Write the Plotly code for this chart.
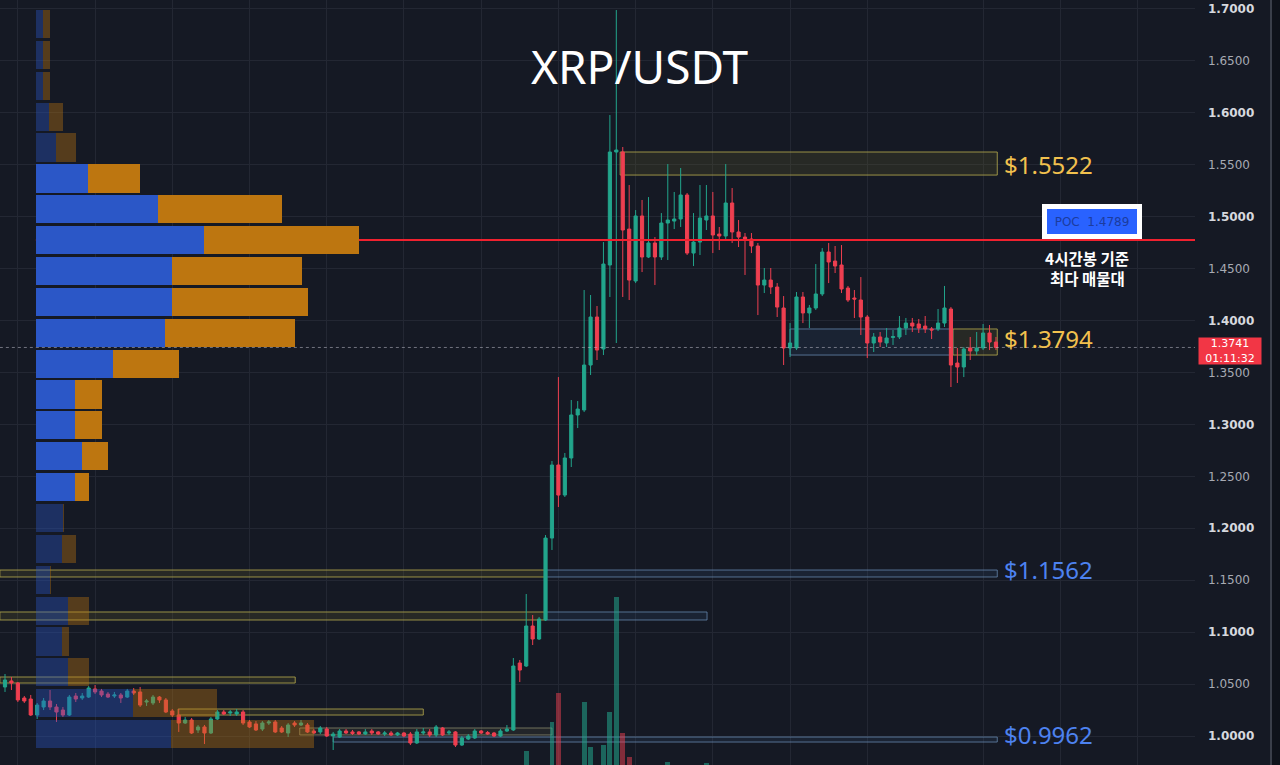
import plotly.graph_objects as go

# ---------------- data ----------------
opens = [
1.0472, 1.0530, 1.0510, 1.0366, 1.0356, 1.0202, 1.0279, 1.0337, 1.0279, 1.0250,
1.0202, 1.0385, 1.0366, 1.0375, 1.0453, 1.0433, 1.0404, 1.0385, 1.0395, 1.0375,
1.0433, 1.0424, 1.0327, 1.0318, 1.0375, 1.0347, 1.0241, 1.0202, 1.0125, 1.0154,
1.0058, 1.0087, 1.0029, 1.0164, 1.0231, 1.0221, 1.0212, 1.0231, 1.0135, 1.0116,
1.0067, 1.0125, 1.0135, 1.0077, 1.0029, 1.0125, 1.0106, 1.0106, 1.0048, 1.0039,
1.0067, 1.0000, 0.9990, 1.0048, 1.0039, 1.0039, 1.0019, 1.0048, 1.0039, 1.0019,
1.0029, 1.0010, 1.0029, 1.0019, 0.9933, 1.0029, 1.0039, 1.0010, 1.0077, 1.0029,
1.0039, 0.9913, 0.9971, 0.9981, 1.0048, 1.0034, 1.0029, 1.0000, 1.0048, 1.0058,
1.0703, 1.0674, 1.1059, 1.0934, 1.1117, 1.1906, 1.2609, 1.2320, 1.2677, 1.3091,
1.3139, 1.3572, 1.4034, 1.3726, 1.4535, 1.5623, 1.5623, 1.4881, 1.4381, 1.5007,
1.4612, 1.4747, 1.4612, 1.4939, 1.4958, 1.4978, 1.5209, 1.4650, 1.4756, 1.4968,
1.5007, 1.4833, 1.4814, 1.5132, 1.4853, 1.4804, 1.4785, 1.4718, 1.4342, 1.4390,
1.4323, 1.4121, 1.3736, 1.3736, 1.4227, 1.4073, 1.4121, 1.4256, 1.4660, 1.4573,
1.4535, 1.4313, 1.4217, 1.4198, 1.4034, 1.3784, 1.3842, 1.3784, 1.3837, 1.3842,
1.3928, 1.3976, 1.3967, 1.3947, 1.3919, 1.3919, 1.3976, 1.4111, 1.3591, 1.3553,
1.3736, 1.3707, 1.3736, 1.3880, 1.3793]

highs = [
1.0597, 1.0568, 1.0520, 1.0385, 1.0395, 1.0318, 1.0366, 1.0443, 1.0308, 1.0279,
1.0395, 1.0414, 1.0414, 1.0481, 1.0491, 1.0453, 1.0424, 1.0424, 1.0414, 1.0453,
1.0462, 1.0472, 1.0356, 1.0395, 1.0385, 1.0366, 1.0260, 1.0260, 1.0183, 1.0173,
1.0106, 1.0106, 1.0183, 1.0250, 1.0250, 1.0250, 1.0260, 1.0250, 1.0154, 1.0144,
1.0144, 1.0154, 1.0154, 1.0096, 1.0125, 1.0144, 1.0154, 1.0125, 1.0067, 1.0096,
1.0087, 1.0039, 1.0067, 1.0067, 1.0058, 1.0048, 1.0067, 1.0067, 1.0048, 1.0048,
1.0048, 1.0039, 1.0039, 1.0039, 1.0067, 1.0077, 1.0067, 1.0106, 1.0087, 1.0058,
1.0048, 1.0000, 1.0019, 1.0067, 1.0058, 1.0048, 1.0039, 1.0067, 1.0106, 1.0751,
1.0732, 1.1367, 1.1165, 1.1146, 1.1935, 1.2648, 1.3456, 1.2725, 1.3235, 1.3225,
1.4294, 1.4246, 1.4140, 1.4756, 1.5979, 1.6990, 1.5671, 1.5305, 1.5064, 1.5161,
1.5189, 1.4804, 1.5035, 1.5507, 1.5238, 1.5469, 1.5228, 1.5035, 1.5305, 1.5305,
1.5238, 1.4901, 1.5507, 1.5276, 1.4968, 1.4843, 1.4843, 1.4747, 1.4506, 1.4506,
1.4361, 1.4236, 1.3976, 1.4275, 1.4275, 1.4150, 1.4544, 1.4698, 1.4747, 1.4718,
1.4727, 1.4333, 1.4294, 1.4419, 1.4053, 1.3880, 1.3890, 1.3928, 1.3909, 1.4044,
1.4025, 1.4025, 1.4015, 1.4044, 1.3938, 1.4111, 1.4333, 1.4130, 1.3736, 1.3745,
1.3842, 1.3890, 1.3967, 1.3957, 1.3842]

lows = [
1.0424, 1.0443, 1.0327, 1.0318, 1.0193, 1.0164, 1.0250, 1.0250, 1.0135, 1.0183,
1.0193, 1.0327, 1.0347, 1.0366, 1.0404, 1.0375, 1.0366, 1.0366, 1.0318, 1.0366,
1.0395, 1.0279, 1.0289, 1.0298, 1.0318, 1.0221, 1.0183, 1.0039, 1.0116, 1.0019,
1.0029, 0.9923, 1.0019, 1.0154, 1.0202, 1.0193, 1.0193, 1.0106, 1.0077, 1.0048,
1.0048, 1.0106, 1.0029, 1.0029, 0.9990, 1.0087, 1.0096, 1.0029, 1.0019, 1.0019,
0.9990, 0.9865, 0.9981, 1.0019, 1.0010, 1.0010, 1.0010, 1.0010, 1.0010, 1.0000,
1.0000, 1.0000, 0.9990, 0.9913, 0.9923, 1.0010, 0.9990, 0.9990, 1.0000, 1.0010,
0.9894, 0.9904, 0.9961, 0.9971, 1.0019, 1.0010, 0.9990, 0.9990, 1.0039, 1.0048,
1.0520, 1.0664, 1.0876, 1.0924, 1.1107, 1.1791, 1.2205, 1.2301, 1.2590, 1.2965,
1.3119, 1.3476, 1.3620, 1.3668, 1.4227, 1.3784, 1.4227, 1.4198, 1.4361, 1.4467,
1.4602, 1.4342, 1.4583, 1.4583, 1.4881, 1.4901, 1.4631, 1.4525, 1.4631, 1.4872,
1.4650, 1.4679, 1.4776, 1.4747, 1.4708, 1.4439, 1.4650, 1.4053, 1.4265, 1.4256,
1.4034, 1.3572, 1.3649, 1.3716, 1.3976, 1.3928, 1.4102, 1.4236, 1.4361, 1.4458,
1.4265, 1.4179, 1.4025, 1.3861, 1.3639, 1.3697, 1.3745, 1.3745, 1.3765, 1.3822,
1.3861, 1.3890, 1.3880, 1.3880, 1.3822, 1.3899, 1.3938, 1.3360, 1.3399, 1.3456,
1.3620, 1.3668, 1.3716, 1.3716, 1.3716]

closes = [
1.0539, 1.0510, 1.0347, 1.0337, 1.0202, 1.0298, 1.0337, 1.0279, 1.0231, 1.0202,
1.0375, 1.0356, 1.0385, 1.0462, 1.0424, 1.0395, 1.0375, 1.0395, 1.0366, 1.0433,
1.0414, 1.0298, 1.0337, 1.0375, 1.0347, 1.0231, 1.0202, 1.0125, 1.0154, 1.0029,
1.0087, 1.0029, 1.0164, 1.0231, 1.0212, 1.0231, 1.0231, 1.0125, 1.0087, 1.0058,
1.0125, 1.0135, 1.0039, 1.0039, 1.0106, 1.0106, 1.0125, 1.0039, 1.0029, 1.0077,
1.0000, 1.0019, 1.0048, 1.0029, 1.0024, 1.0019, 1.0039, 1.0029, 1.0019, 1.0029,
1.0010, 1.0029, 1.0000, 0.9933, 1.0039, 1.0039, 1.0010, 1.0087, 1.0010, 1.0039,
0.9913, 0.9981, 1.0000, 1.0048, 1.0029, 1.0019, 1.0000, 1.0048, 1.0067, 1.0674,
1.0635, 1.1059, 1.0934, 1.1126, 1.1906, 1.2609, 1.2320, 1.2677, 1.3091, 1.3148,
1.3572, 1.4034, 1.3716, 1.4544, 1.5623, 1.5642, 1.4872, 1.4390, 1.5007, 1.4612,
1.4747, 1.4612, 1.4939, 1.4968, 1.4978, 1.5209, 1.4650, 1.4756, 1.4987, 1.5007,
1.4824, 1.4814, 1.5132, 1.4853, 1.4804, 1.4776, 1.4718, 1.4342, 1.4390, 1.4323,
1.4130, 1.3736, 1.3784, 1.4227, 1.4073, 1.4121, 1.4256, 1.4660, 1.4564, 1.4525,
1.4304, 1.4198, 1.4207, 1.4034, 1.3784, 1.3842, 1.3793, 1.3832, 1.3846, 1.3928,
1.3976, 1.3947, 1.3928, 1.3919, 1.3909, 1.3976, 1.4121, 1.3572, 1.3553, 1.3726,
1.3707, 1.3736, 1.3880, 1.3793, 1.3741]

volumes = [
3, 3, 3, 2, 4, 3, 2, 3, 3, 2,
3, 2, 2, 3, 2, 2, 2, 2, 2, 3,
2, 3, 2, 2, 2, 3, 2, 4, 2, 4,
2, 4, 3, 2, 2, 2, 2, 3, 2, 2,
2, 2, 3, 2, 3, 2, 2, 3, 2, 2,
3, 4, 3, 2, 2, 2, 2, 2, 2, 2,
2, 2, 2, 4, 4, 2, 2, 3, 2, 2,
4, 3, 2, 3, 2, 2, 2, 3, 3, 9,
6, 24, 8, 7, 9, 53, 82, 7, 9, 8,
73, 28, 8, 30, 63, 178, 42, 18, 8, 7,
7, 6, 6, 13, 6, 8, 8, 7, 8, 12,
7, 5, 8, 7, 5, 5, 5, 8, 5, 5,
6, 8, 5, 8, 6, 5, 7, 8, 6, 5,
7, 5, 5, 7, 8, 4, 3, 3, 3, 5,
4, 3, 3, 3, 3, 4, 7, 9, 6, 6,
4, 4, 5, 4, 3]

# volume profile (rows of price)
profile_price = [1.6855, 1.6558, 1.6261, 1.5963, 1.5666, 1.5369, 1.5072, 1.4774,
                 1.4477, 1.4180, 1.3883, 1.3585, 1.3288, 1.2991, 1.2694, 1.2396,
                 1.2099, 1.1802, 1.1505, 1.1207, 1.0910, 1.0613, 1.0316, 1.0019]
profile_buy = [7, 7, 7, 13, 20, 52, 122, 168, 136, 136, 129, 77, 39, 39, 46, 39,
               27, 26, 14, 32, 26, 32, 97, 135]
profile_sell = [7, 7, 7, 14, 20, 52, 124, 155, 130, 136, 130, 66, 27, 27, 26, 14,
                1, 14, 1, 21, 7, 21, 84, 143]
value_area = [False] * 5 + [True] * 11 + [False] * 8

poc_price = 1.4775
poc_label = 1.4789
last_price = 1.3741
countdown = "01:11:32"

# zones
zone_top = [1.5623, 1.3919, 1.3919, 1.1598, 1.1598, 1.1194, 1.1194, 1.0568, 1.0260, 1.0077, 0.9990]
zone_bottom = [1.5401, 1.3668, 1.3668, 1.1531, 1.1531, 1.1117, 1.1117, 1.0510, 1.0202, 1.0010, 0.9942]
zone_from = [95.6, 122.0, 147.3, -0.8, 83.9, -0.8, 83.9, -0.8, 26.9, 45.8, 51.0]
zone_to = [154.2, 147.3, 154.2, 83.9, 154.2, 83.9, 109.1, 45.1, 65.0, 85.0, 154.2]
zone_kind = ['y', 'b', 'y', 'y', 'b', 'y', 'b', 'y', 'y', 'g', 'b']

level_prices = [1.5522, 1.3794, 1.1562, 0.9962]
level_colors = ['#f2c14e', '#f2c14e', '#4d82f0', '#4d82f0']
level_shift = [-2, 3, 4, 5]

grid_candles = [2, 14, 26, 38, 50, 62, 74, 86, 98, 110, 122, 134, 152, 164, 176]
y_ticks = [1.00, 1.05, 1.10, 1.15, 1.20, 1.25, 1.30, 1.35, 1.40, 1.45, 1.50,
           1.55, 1.60, 1.65, 1.70]

# ---------------- styling ----------------
BG = '#151924'
GRID = '#232733'
GREEN = '#22a58c'
RED = '#ee3f50'
W, H = 1280, 765
PR = 1195 / W  # right edge of plotting area (paper fraction)

idx = list(range(len(closes)))

fig = go.Figure()

fig.add_trace(go.Candlestick(
    x=idx, open=opens, high=highs, low=lows, close=closes,
    increasing=dict(line=dict(color=GREEN, width=1), fillcolor=GREEN),
    decreasing=dict(line=dict(color=RED, width=1), fillcolor=RED),
    whiskerwidth=0, showlegend=False, hoverinfo='skip',
    xaxis='x', yaxis='y'))

# current price dotted line
fig.add_trace(go.Scatter(x=[-0.8, 185], y=[last_price, last_price], mode='lines',
                         line=dict(color='rgba(190,190,200,0.55)', width=1, dash='dot'),
                         showlegend=False, hoverinfo='skip', xaxis='x', yaxis='y'))
# POC line
fig.add_trace(go.Scatter(x=[4.8, 185], y=[poc_price, poc_price], mode='lines',
                         line=dict(color='#f0212f', width=2),
                         showlegend=False, hoverinfo='skip', xaxis='x', yaxis='y'))

# volume bars
vol_colors = ['rgba(34,165,140,0.55)' if c >= o else 'rgba(238,63,80,0.5)'
              for o, c in zip(opens, closes)]
fig.add_trace(go.Bar(x=idx, y=volumes, marker=dict(color=vol_colors, line=dict(width=0)),
                     width=0.75, showlegend=False, hoverinfo='skip',
                     xaxis='x', yaxis='y2'))

# volume profile
buy_cols = ['#2b57c7' if v else 'rgba(43,87,199,0.38)' for v in value_area]
sell_cols = ['#bd7610' if v else 'rgba(189,118,16,0.38)' for v in value_area]
fig.add_trace(go.Bar(y=profile_price, x=profile_buy, orientation='h', width=0.0272,
                     marker=dict(color=buy_cols, line=dict(width=0)),
                     showlegend=False, hoverinfo='skip', xaxis='x2', yaxis='y'))
fig.add_trace(go.Bar(y=profile_price, x=profile_sell, orientation='h', width=0.0272,
                     marker=dict(color=sell_cols, line=dict(width=0)),
                     showlegend=False, hoverinfo='skip', xaxis='x2', yaxis='y'))

# zones
zone_style = {
    'y': dict(line='rgba(175,165,75,0.85)', fill='rgba(120,115,45,0.18)'),
    'b': dict(line='rgba(105,140,180,0.75)', fill='rgba(60,100,150,0.14)'),
    'g': dict(line='rgba(150,150,115,0.7)', fill='rgba(110,110,80,0.14)'),
}
shapes = []
for t, b, x0, x1, k in zip(zone_top, zone_bottom, zone_from, zone_to, zone_kind):
    st = zone_style[k]
    shapes.append(dict(type='rect', xref='x', yref='y', x0=x0, x1=x1, y0=b, y1=t,
                       line=dict(color=st['line'], width=1), fillcolor=st['fill'],
                       layer='between'))
# right border strip
shapes.append(dict(type='rect', xref='paper', yref='paper', x0=1271 / W, x1=1.0, y0=0, y1=1,
                   line=dict(width=0), fillcolor='#0f121a', layer='above'))
shapes.append(dict(type='line', xref='paper', yref='paper', x0=1271 / W, x1=1271 / W, y0=0, y1=1,
                   line=dict(color='#3a3e49', width=2), layer='above'))

annotations = []
annotations.append(dict(xref='paper', yref='paper', x=0.5, y=1 - 66 / H, text='XRP/USDT',
                        showarrow=False, xanchor='center', yanchor='middle',
                        font=dict(family='Noto Sans', size=46, color='#ffffff')))
for p, c, sh in zip(level_prices, level_colors, level_shift):
    annotations.append(dict(xref='x', yref='y', x=155.0, y=p, text='$%.4f' % p,
                            showarrow=False, xanchor='left', yanchor='middle', yshift=sh,
                            font=dict(family='Noto Sans', size=24, color=c)))
annotations.append(dict(xref='paper', yref='paper', x=1091.5 / W, y=1 - 221.5 / H,
                        text='POC  %.4f' % poc_label, showarrow=False,
                        xanchor='center', yanchor='middle',
                        font=dict(family='DejaVu Sans', size=12, color='#1c3c9e'),
                        bgcolor='#2962ff', bordercolor='#ffffff', borderwidth=5,
                        borderpad=2, width=86, height=21))
annotations.append(dict(xref='paper', yref='paper', x=1087 / W, y=1 - 258 / H,
                        text='<b>4시간봉 기준</b>', showarrow=False,
                        xanchor='center', yanchor='middle',
                        font=dict(family='Noto Sans CJK KR', size=15.5, color='#ffffff')))
annotations.append(dict(xref='paper', yref='paper', x=1087 / W, y=1 - 278 / H,
                        text='<b>최다 매물대</b>', showarrow=False,
                        xanchor='center', yanchor='middle',
                        font=dict(family='Noto Sans CJK KR', size=15.5, color='#ffffff')))
annotations.append(dict(xref='paper', yref='paper', x=1229.5 / W, y=1 - 351.5 / H,
                        text='%.4f<br>%s' % (last_price, countdown), showarrow=False,
                        xanchor='center', yanchor='middle',
                        font=dict(family='DejaVu Sans', size=11, color='#ffffff'),
                        bgcolor='#f23645', borderpad=0, width=62, height=26))

tick_text = []
for v in y_ticks:
    s = '%.4f' % v
    if round(v * 100) % 10 == 0:
        tick_text.append("<span style='color:#d6d8de'><b>%s</b></span>" % s)
    else:
        tick_text.append("<span style='color:#a7aab3'>%s</span>" % s)

fig.update_layout(
    width=W, height=H,
    margin=dict(l=0, r=0, t=0, b=0),
    paper_bgcolor=BG, plot_bgcolor=BG,
    barmode='stack',
    showlegend=False,
    xaxis=dict(domain=[0, PR], range=[-0.777, 184.93], tickvals=grid_candles,
               showticklabels=False, showgrid=True, gridcolor=GRID, gridwidth=1,
               zeroline=False, showline=False, ticks='', fixedrange=True,
               rangeslider=dict(visible=False)),
    yaxis=dict(side='right', range=[0.97208, 1.70865], tickvals=y_ticks, ticktext=tick_text,
               showgrid=True, gridcolor=GRID, gridwidth=1, zeroline=False, showline=False,
               ticks='', ticklabelstandoff=12, automargin=False,
               tickfont=dict(family='DejaVu Sans', size=12, color='#b2b5be')),
    xaxis2=dict(overlaying='x', anchor='y', range=[-36, 1159], visible=False,
                fixedrange=True),
    yaxis2=dict(overlaying='y', anchor='x', range=[10, 775], visible=False),
    shapes=shapes,
    annotations=annotations,
)

fig.write_html('out.html',
               config={'displayModeBar': False},
               post_script="document.body.style.margin='0px';"
                           "document.body.style.background='#151924';")
